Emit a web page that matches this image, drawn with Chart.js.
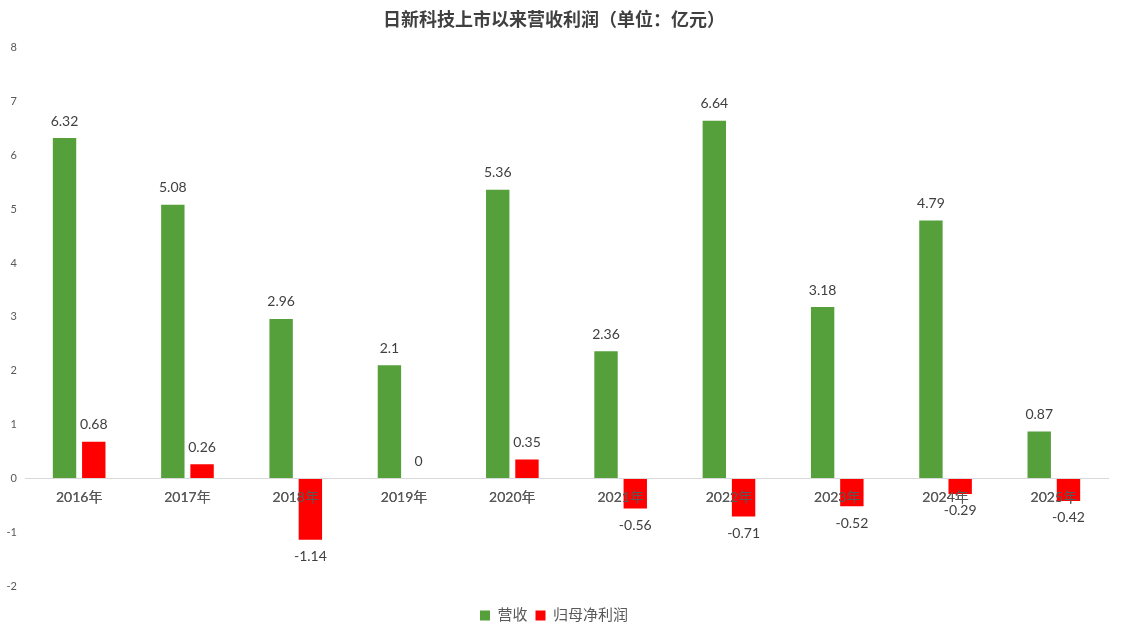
<!DOCTYPE html>
<html>
<head>
<meta charset="utf-8">
<script src="https://cdn.jsdelivr.net/npm/chart.js@4.4.0/dist/chart.umd.min.js"></script>
<style>
  html, body { margin: 0; padding: 0; background: #fff; }
  #wrap { width: 1121px; height: 637px; }
</style>
</head>
<body>
<div id="wrap"><canvas id="Grafico"></canvas></div>
<script>
// 数据
const years = ["2016年", "2017年", "2018年", "2019年", "2020年", "2021年", "2022年", "2023年", "2024年", "2025年"];
const revenue = [6.32, 5.08, 2.96, 2.1, 5.36, 2.36, 6.64, 3.18, 4.79, 0.87];
const netProfit = [0.68, 0.26, -1.14, 0, 0.35, -0.56, -0.71, -0.52, -0.29, -0.42];
const yMin = -2;
const yMax = 8;

const fontFam = "Lato, 'Noto Sans CJK SC', sans-serif";

// 柱子上的数值，x轴文字画在柱子上面
const valueLabels = {
  id: 'valueLabels',
  afterDatasetsDraw(chart) {
    const ctx = chart.ctx;
    chart.scales.x.draw(chart.chartArea);
    ctx.save();
    ctx.font = "14px " + fontFam;
    ctx.fillStyle = "#404040";
    ctx.textAlign = "center";
    ctx.textBaseline = "middle";
    chart.data.datasets.forEach((ds, i) => {
      chart.getDatasetMeta(i).data.forEach((bar, j) => {
        let v = ds.data[j];
        let y = v < 0 ? bar.y + 17 : bar.y - 17;
        ctx.fillText(String(v), bar.x, y);
      });
    });
    ctx.restore();
  }
};

let canva = document.getElementById("Grafico").getContext("2d");
var chart = new Chart(canva, {
  type: "bar",
  data: {
    labels: years,
    datasets: [
      {
        label: "营收",
        backgroundColor: "#55A03B",
        data: revenue,
        categoryPercentage: 0.54,
        barPercentage: 0.8
      },
      {
        label: "归母净利润",
        backgroundColor: "#FF0000",
        data: netProfit,
        categoryPercentage: 0.54,
        barPercentage: 0.8
      }
    ]
  },
  options: {
    responsive: true,
    maintainAspectRatio: false,
    animation: false,
    layout: { padding: { left: 0, right: 13, top: 0, bottom: 4 } },
    plugins: {
      title: {
        display: true,
        text: "日新科技上市以来营收利润（单位：亿元）",
        color: "#404040",
        font: { family: "'Noto Sans CJK SC', sans-serif", size: 18, weight: "bold" },
        padding: { top: 8, bottom: 18 }
      },
      legend: {
        position: "bottom",
        labels: {
          boxWidth: 10,
          boxHeight: 10,
          padding: 8,
          color: "#595959",
          font: { family: fontFam, size: 15 }
        }
      },
      tooltip: { enabled: false }
    },
    scales: {
      x: {
        position: { y: 0 },
        grid: { display: false },
        border: { display: true, color: "#D9D9D9", width: 1 },
        ticks: { color: "#595959", font: { family: fontFam, size: 14 }, padding: 3 }
      },
      // 空白轴，只占底部位置
      xPad: {
        type: "category",
        position: "bottom",
        grid: { display: false },
        border: { display: false },
        ticks: { display: false },
        afterFit(scale) { scale.height = 14; }
      },
      y: {
        min: yMin,
        max: yMax,
        grid: { display: false },
        border: { display: false },
        ticks: { stepSize: 1, color: "#595959", font: { family: fontFam, size: 11 }, padding: 0 },
        afterFit(scale) { scale.width = 25; }
      }
    }
  },
  plugins: [valueLabels]
});
</script>
</body>
</html>
